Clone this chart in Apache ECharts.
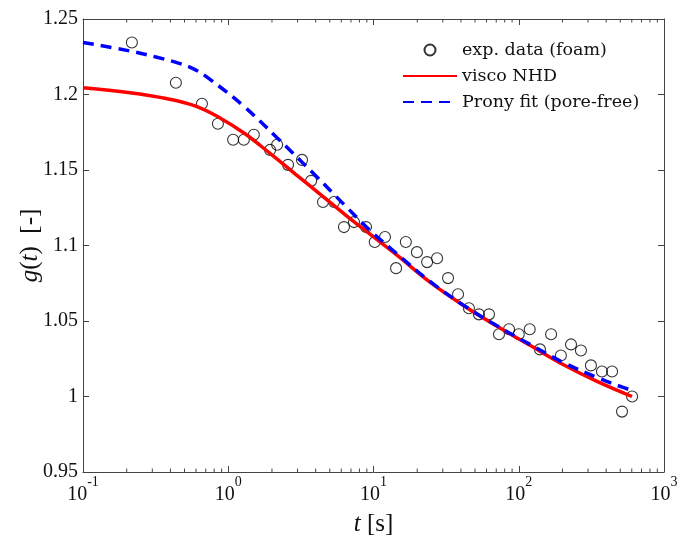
<!DOCTYPE html>
<html>
<head>
<meta charset="utf-8">
<script src="https://cdn.jsdelivr.net/npm/echarts@6/dist/echarts.min.js"></script>
<style>
  html, body { margin: 0; padding: 0; background: #fff; }
  #main { width: 685px; height: 547px; }
</style>
</head>
<body>
<div id="main"></div>
<script>
// exp. data (foam)
var expT = [0.217, 0.436, 0.659, 0.849, 1.08, 1.28, 1.50, 1.94, 2.17, 2.58, 3.22, 3.72, 4.49, 5.35,
  6.26, 7.34, 8.88, 10.2, 12.0, 14.3, 16.7, 19.9, 23.4, 27.4, 32.6, 38.2, 45.4, 53.2, 62.4, 73.1,
  85.7, 100, 119, 140, 167, 195, 229, 268, 314, 374, 439, 514, 603];
var expG = [1.2344, 1.2078, 1.1939, 1.1806, 1.170, 1.170, 1.1733, 1.1633, 1.1667, 1.1534, 1.1567, 1.1428, 1.1288, 1.1288,
  1.1122, 1.1155, 1.1122, 1.1023, 1.1056, 1.085, 1.1023, 1.0956, 1.089, 1.0916, 1.0784, 1.0677, 1.0584, 1.0544, 1.0544, 1.0412,
  1.0445, 1.0412, 1.0445, 1.0312, 1.0412, 1.0272, 1.0345, 1.0305, 1.0206, 1.0166, 1.0166, 0.990, 1.0];

// visco NHD
var viscoT = [0.1, 0.2107, 0.3667, 0.5903, 0.8774, 1.304, 1.939, 2.882, 4.282, 6.366, 9.461, 14.51, 24.49, 41.33, 70.85, 119.5, 201.7, 345.7, 602];
var viscoG = [1.2045, 1.2012, 1.1975, 1.1925, 1.1845, 1.1740, 1.1610, 1.1475, 1.1340, 1.1205, 1.1075, 1.0936, 1.0757, 1.0604, 1.0465, 1.0339, 1.0212, 1.0100, 1.0];

// Prony fit (pore-free)
var pronyT = [0.1, 0.2107, 0.3131, 0.4653, 0.5903, 0.7488, 1.263, 2.166, 3.832, 6.366, 9.461, 14.51, 24.49, 41.33, 70.85, 119.5, 201.7, 345.7, 522.1, 602];
var pronyG = [1.2345, 1.2288, 1.2250, 1.2205, 1.2165, 1.2100, 1.1927, 1.1714, 1.1480, 1.1265, 1.1100, 1.0945, 1.0762, 1.0607, 1.0468, 1.0345, 1.0226, 1.0126, 1.006, 1.004];

var xExps = [-1, 0, 1, 2, 3];
var yMin = 0.95, yMax = 1.25, yStep = 0.05;

function pairs(xs, ys) {
  var out = [];
  for (var i = 0; i < xs.length; i++) out.push([xs[i], ys[i]]);
  return out;
}

var FONT = 'Liberation Serif';
var LEG_FONT = 'DejaVu Serif';
var chart = echarts.init(document.getElementById('main'));

var axisLine = { lineStyle: { color: '#444', width: 1 } };
var tick = { inside: true, length: 6, lineStyle: { color: '#444' } };

var option = {
  animation: false,
  textStyle: { fontFamily: FONT },
  grid: { left: 83, right: 21, top: 19, bottom: 75 },
  legend: {
    orient: 'vertical',
    left: 397, top: 36,
    itemWidth: 54, itemHeight: 11, itemGap: 8,
    textStyle: { fontFamily: LEG_FONT, fontSize: 17.5, lineHeight: 18, color: '#111' },
    data: [
      { name: 'exp. data (foam)' },
      { name: 'visco NHD', itemStyle: { opacity: 0 } },
      { name: 'Prony fit (pore-free)', itemStyle: { opacity: 0 } }
    ]
  },
  xAxis: [{
    type: 'log', logBase: 10,
    min: Math.pow(10, xExps[0]), max: Math.pow(10, xExps[xExps.length - 1]),
    axisLine: axisLine,
    axisTick: tick,
    splitLine: { show: false },
    axisLabel: {
      margin: 3,
      formatter: function (v) {
        return '{b|10}{s|' + Math.round(Math.log10(v)) + '}';
      },
      rich: {
        b: { fontFamily: FONT, fontSize: 20, color: '#111', lineHeight: 30, verticalAlign: 'bottom' },
        s: { fontFamily: FONT, fontSize: 14, color: '#111', lineHeight: 14, verticalAlign: 'top' }
      }
    },
    name: '{i|t}{n| [s]}',
    nameLocation: 'middle', nameGap: 40,
    nameTextStyle: {
      rich: {
        i: { fontFamily: FONT, fontStyle: 'italic', fontSize: 25, color: '#111' },
        n: { fontFamily: FONT, fontSize: 25, color: '#111' }
      }
    }
  }, {
    type: 'log', logBase: 10, position: 'top',
    min: Math.pow(10, xExps[0]), max: Math.pow(10, xExps[xExps.length - 1]),
    axisLine: axisLine,
    axisTick: tick,
    axisLabel: { show: false },
    splitLine: { show: false }
  }],
  yAxis: [{
    type: 'value', min: yMin, max: yMax, interval: yStep,
    axisLine: axisLine,
    axisTick: tick,
    splitLine: { show: false },
    axisLabel: { fontFamily: FONT, fontSize: 20, color: '#111', margin: 5 },
    name: '{i|g}{n|(}{i|t}{n|)  [-]}',
    nameLocation: 'middle', nameGap: 40, nameMoveOverlap: false,
    nameTextStyle: {
      rich: {
        i: { fontFamily: FONT, fontStyle: 'italic', fontSize: 25, color: '#111' },
        n: { fontFamily: FONT, fontSize: 25, color: '#111' }
      }
    }
  }, {
    type: 'value', min: yMin, max: yMax, interval: yStep, position: 'right',
    axisLine: axisLine,
    axisTick: tick,
    axisLabel: { show: false },
    splitLine: { show: false }
  }],
  series: [{
    name: 'exp. data (foam)',
    type: 'scatter',
    data: pairs(expT, expG),
    symbol: 'circle', symbolSize: 11,
    itemStyle: { color: 'rgba(255,255,255,0)', borderColor: '#000', borderWidth: 1.1 },
    z: 3
  }, {
    name: 'visco NHD',
    type: 'line',
    data: pairs(viscoT, viscoG),
    smooth: 0.4, showSymbol: false, symbol: 'none',
    lineStyle: { color: '#ff0000', width: 3.5 },
    itemStyle: { color: '#ff0000' },
    z: 4
  }, {
    name: 'Prony fit (pore-free)',
    type: 'line',
    data: pairs(pronyT, pronyG),
    smooth: 0.4, showSymbol: false, symbol: 'none',
    lineStyle: { color: '#0000ff', width: 3.5, type: [11, 7] },
    itemStyle: { color: '#0000ff' },
    z: 5
  }]
};
chart.setOption(option);

// minor log ticks (2..9 per decade) on bottom and top axes
var yBot = chart.convertToPixel({ yAxisIndex: 0 }, yMin);
var yTop = chart.convertToPixel({ yAxisIndex: 0 }, yMax);
var minor = [];
for (var k = 0; k < xExps.length - 1; k++) {
  for (var m = 2; m <= 9; m++) {
    var px = chart.convertToPixel({ xAxisIndex: 0 }, m * Math.pow(10, xExps[k]));
    minor.push({ type: 'line', shape: { x1: px, y1: yBot, x2: px, y2: yBot - 3.5 }, style: { stroke: '#444', lineWidth: 1 } });
    minor.push({ type: 'line', shape: { x1: px, y1: yTop, x2: px, y2: yTop + 3.5 }, style: { stroke: '#444', lineWidth: 1 } });
  }
}
chart.setOption({ graphic: minor });
</script>
</body>
</html>
